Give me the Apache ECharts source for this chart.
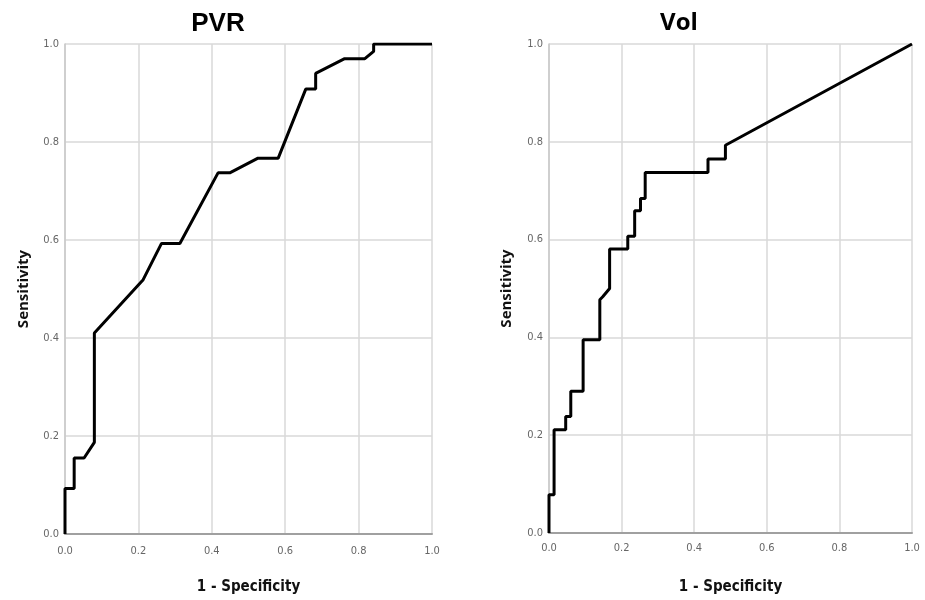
<!DOCTYPE html>
<html>
<head>
<meta charset="utf-8">
<title>ROC PVR / Vol</title>
<script src="https://cdn.jsdelivr.net/npm/echarts/dist/echarts.min.js"></script>
<style>
  html, body { margin: 0; padding: 0; background: #fff; }
  #chart { width: 925px; height: 600px; }
</style>
</head>
<body>
<div id="chart"></div>
<script>
// ROC curve points (1 - specificity, sensitivity)
var pvrFpr = [0, 0, 0.025, 0.025, 0.052, 0.08, 0.08, 0.213, 0.263, 0.313, 0.417, 0.449, 0.526, 0.581, 0.656, 0.683, 0.683, 0.762, 0.817, 0.841, 0.841, 1]
var pvrTpr = [0, 0.093, 0.093, 0.155, 0.155, 0.187, 0.41, 0.519, 0.593, 0.593, 0.737, 0.737, 0.767, 0.767, 0.908, 0.908, 0.94, 0.97, 0.97, 0.985, 1, 1]

var volFpr = [0, 0, 0.014, 0.014, 0.046, 0.046, 0.06, 0.06, 0.094, 0.094, 0.14, 0.14, 0.148, 0.167, 0.167, 0.217, 0.217, 0.236, 0.236, 0.252, 0.252, 0.265, 0.265, 0.438, 0.438, 0.486, 0.486, 1]
var volTpr = [0, 0.078, 0.078, 0.211, 0.211, 0.238, 0.238, 0.29, 0.29, 0.395, 0.395, 0.477, 0.483, 0.5, 0.581, 0.581, 0.607, 0.607, 0.659, 0.659, 0.684, 0.684, 0.737, 0.737, 0.765, 0.765, 0.793, 1]

var titles = ["PVR", "Vol"]
var xName = "1 - Specificity"
var yName = "Sensitivity"

function pairs(xs, ys) {
  return xs.map(function (x, i) { return [x, ys[i]] })
}

var tickLabel = {
  color: "#666",
  fontSize: 11,
  fontFamily: "DejaVu Sans Condensed, Liberation Sans Narrow, sans-serif",
  formatter: function (v) { return v.toFixed(1) }
}

function xAxisOf(idx, gap, margin) {
  return {
    gridIndex: idx,
    type: "value",
    min: 0, max: 1, interval: 0.2,
    name: xName,
    nameLocation: "middle",
    nameGap: gap,
    nameTextStyle: { color: "#111", fontSize: 15, fontWeight: "bold", fontFamily: "Liberation Sans Narrow, DejaVu Sans Condensed, sans-serif" },
    axisLine: { show: true, lineStyle: { color: "#a0a0a0", width: 2 } },
    axisTick: { show: false },
    axisLabel: Object.assign({ margin: margin }, tickLabel),
    splitLine: { show: true, lineStyle: { color: "#d8d8d8", width: 1.5 } }
  }
}

function yAxisOf(idx, gap) {
  return {
    gridIndex: idx,
    type: "value",
    min: 0, max: 1, interval: 0.2,
    name: yName,
    nameLocation: "middle",
    nameGap: gap,
    nameRotate: 90,
    nameTextStyle: { color: "#111", fontSize: 15, fontWeight: "bold", fontFamily: "Open Sans, sans-serif" },
    axisLine: { show: true, lineStyle: { color: "#c8c8c8", width: 1.5 } },
    axisTick: { show: false },
    axisLabel: Object.assign({ margin: 6 }, tickLabel),
    splitLine: { show: true, lineStyle: { color: "#d8d8d8", width: 1.5 } }
  }
}

var chart = echarts.init(document.getElementById("chart"))
chart.setOption({
  backgroundColor: "#fff",
  animation: false,
  title: [
    { text: titles[0], left: 213, top: 6, textAlign: "center",
      textStyle: { fontSize: 26, fontWeight: "bold", color: "#000", fontFamily: "Liberation Sans, Arial, sans-serif" } },
    { text: titles[1], left: 674, top: 6, textAlign: "center",
      textStyle: { fontSize: 24, fontWeight: "bold", color: "#000", fontFamily: "Open Sans, sans-serif" } }
  ],
  grid: [
    { left: 65, top: 44, width: 367, height: 494 },
    { left: 549, top: 44, width: 363, height: 489 }
  ],
  xAxis: [xAxisOf(0, 46, 12), xAxisOf(1, 47, 10)],
  yAxis: [yAxisOf(0, 34), yAxisOf(1, 35)],
  series: [
    {
      type: "line", xAxisIndex: 0, yAxisIndex: 0,
      data: pairs(pvrFpr, pvrTpr),
      symbol: "none",
      lineStyle: { color: "#000", width: 3 }
    },
    {
      type: "line", xAxisIndex: 1, yAxisIndex: 1,
      data: pairs(volFpr, volTpr),
      symbol: "none",
      lineStyle: { color: "#000", width: 3 }
    }
  ]
})
</script>
</body>
</html>
